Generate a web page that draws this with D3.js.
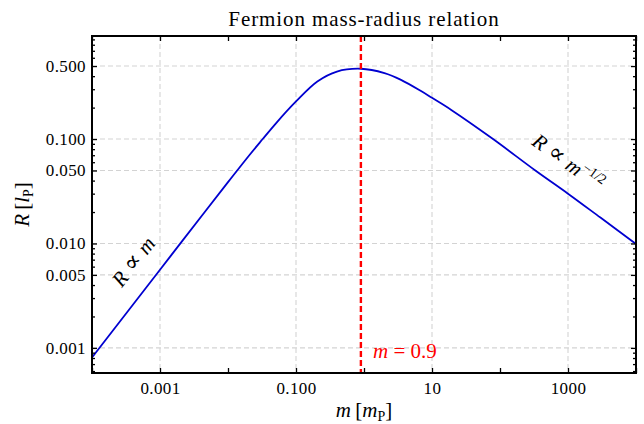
<!DOCTYPE html>
<html>
<head>
<meta charset="utf-8">
<script src="https://cdn.jsdelivr.net/npm/d3@7"></script>
<style>
  body { margin: 0; background: #fff; }
  svg text { font-family: "Liberation Serif", "DejaVu Serif", serif; }
</style>
</head>
<body>
<svg id="chart" width="644" height="424"></svg>
<script>
// values
const massValues = [1e-4, 1e-3, 2.06e-3, 0.01, 0.0213, 0.0324, 0.05, 0.1, 0.206, 0.4, 0.9, 2, 3.5, 6.9, 10, 19.2, 79, 331, 1000, 3000, 1e4];
const radiusValues = [8.1e-4, 5.6e-3, 0.0103, 0.0387, 0.072, 0.1, 0.14, 0.229, 0.356, 0.443, 0.471, 0.428, 0.369, 0.288, 0.248, 0.19, 0.1, 0.05, 0.03, 0.0177, 0.0099];

const xMajorTicks = [1e-4, 1e-3, 1e-2, 1e-1, 1, 10, 100, 1000, 1e4];
const xLabelTicks = [1e-3, 1e-1, 10, 1000];
const yLabelTicks = [0.001, 0.005, 0.01, 0.05, 0.1, 0.5];
const peakMass = 0.9;

let margin = {top: 36, right: 8, bottom: 51, left: 92},
    width = 644 - margin.left - margin.right,
    height = 424 - margin.top - margin.bottom;

const svg = d3.select("#chart");
const g = svg.append("g").attr("transform", `translate(${margin.left},${margin.top})`);

const x = d3.scaleLog().domain([1e-4, 1e4]).range([0, width]);
const y = d3.scaleLog().domain([5.75e-4, 0.97]).range([height, 0]);

// minor ticks on y: 2..9 times each decade, inside the domain
let yMinor = [];
for (let e = -4; e <= 0; e++) {
    for (let k = 2; k <= 9; k++) {
        let v = k * Math.pow(10, e);
        if (v >= y.domain()[0] && v <= y.domain()[1] && k != 5) yMinor.push(v);
    }
}
let yMajor = [];
for (let e = -4; e <= 0; e++) {
    [1, 5].forEach(function(k) {
        let v = k * Math.pow(10, e);
        if (v >= y.domain()[0] && v <= y.domain()[1]) yMajor.push(v);
    });
}

// grid
const gridStyle = sel => sel.attr("stroke", "#d3d3d3").attr("stroke-width", 1.1).attr("stroke-dasharray", "5,3");
g.append("g").selectAll("line").data(xLabelTicks).enter().append("line")
    .attr("x1", d => x(d)).attr("x2", d => x(d)).attr("y1", 0).attr("y2", height)
    .call(gridStyle);
g.append("g").selectAll("line").data(yLabelTicks).enter().append("line")
    .attr("x1", 0).attr("x2", width).attr("y1", d => y(d)).attr("y2", d => y(d))
    .call(gridStyle);

// curve
const pts = massValues.map((m, i) => [x(m), y(radiusValues[i])]);
g.append("path")
    .datum(pts)
    .attr("fill", "none")
    .attr("stroke", "#0000d0")
    .attr("stroke-width", 1.8)
    .attr("d", d3.line().curve(d3.curveCatmullRom.alpha(0.5)));

// peak marker
g.append("line")
    .attr("x1", x(peakMass)).attr("x2", x(peakMass)).attr("y1", 0).attr("y2", height)
    .attr("stroke", "#ff0000").attr("stroke-width", 2.4).attr("stroke-dasharray", "6,3");

// axes
const fmtX = d => xLabelTicks.includes(d) ? (d < 1 ? d3.format(".3f")(d) : d3.format("d")(d)) : "";
const xBottom = g.append("g").attr("transform", `translate(0,${height})`)
    .call(d3.axisBottom(x).tickValues(xMajorTicks).tickSize(-5).tickPadding(9).tickFormat(fmtX));
const xTop = g.append("g")
    .call(d3.axisTop(x).tickValues(xMajorTicks).tickSize(-5).tickFormat(""));

const yLeft = g.append("g")
    .call(d3.axisLeft(y).tickValues(yMajor).tickSize(-5).tickPadding(6)
        .tickFormat(d => yLabelTicks.includes(d) ? d3.format(".3f")(d) : ""));
const yLeftMinor = g.append("g")
    .call(d3.axisLeft(y).tickValues(yMinor).tickSize(-3).tickFormat(""));
const yRight = g.append("g").attr("transform", `translate(${width},0)`)
    .call(d3.axisRight(y).tickValues(yMajor).tickSize(-5).tickFormat(""));
const yRightMinor = g.append("g").attr("transform", `translate(${width},0)`)
    .call(d3.axisRight(y).tickValues(yMinor).tickSize(-3).tickFormat(""));

[xBottom, xTop, yLeft, yLeftMinor, yRight, yRightMinor].forEach(function(a) {
    a.select(".domain").remove();
    a.selectAll(".tick line").attr("stroke", "#000").attr("stroke-width", 1.3);
    a.selectAll(".tick text").attr("font-family", "Liberation Serif").attr("font-size", 17)
        .attr("letter-spacing", 0.4).attr("fill", "#000");
});

// frame
g.append("rect")
    .attr("x", 0).attr("y", 0).attr("width", width).attr("height", height)
    .attr("fill", "none").attr("stroke", "#000").attr("stroke-width", 2);

// title
svg.append("text")
    .attr("x", margin.left + width / 2).attr("y", 26)
    .attr("text-anchor", "middle").attr("font-size", 21).attr("letter-spacing", 0.9)
    .text("Fermion mass-radius relation");

// x label
let xl = svg.append("text")
    .attr("x", margin.left + width / 2).attr("y", 417)
    .attr("text-anchor", "middle").attr("font-size", 21);
xl.append("tspan").attr("font-style", "italic").text("m");
xl.append("tspan").text("\u2009[");
xl.append("tspan").attr("font-style", "italic").text("m");
xl.append("tspan").attr("font-size", 14).attr("dy", 4).text("P");
xl.append("tspan").attr("dy", -4).text("]");

// y label
let yl = svg.append("text")
    .attr("transform", `translate(29,${margin.top + height / 2}) rotate(-90)`)
    .attr("text-anchor", "middle").attr("font-size", 21);
yl.append("tspan").attr("font-style", "italic").text("R");
yl.append("tspan").text("\u2009[");
yl.append("tspan").attr("font-style", "italic").text("l");
yl.append("tspan").attr("font-size", 14).attr("dy", 4).text("P");
yl.append("tspan").attr("dy", -4).text("]");

// annotations
let a1 = svg.append("text")
    .attr("transform", "translate(139,266) rotate(-52)")
    .attr("text-anchor", "middle").attr("font-size", 21);
a1.append("tspan").attr("font-style", "italic").text("R");
a1.append("tspan").attr("font-size", 24).text(" ∝ ");
a1.append("tspan").attr("font-style", "italic").text("m");

let a2 = svg.append("text")
    .attr("transform", "translate(564,168) rotate(36)")
    .attr("text-anchor", "middle").attr("font-size", 21);
a2.append("tspan").attr("font-style", "italic").text("R");
a2.append("tspan").attr("font-size", 24).text(" ∝ ");
a2.append("tspan").attr("font-style", "italic").text("m");
a2.append("tspan").attr("font-size", 14).attr("dy", -9).text("−1/2");

let a3 = svg.append("text")
    .attr("x", 373).attr("y", 358)
    .attr("font-size", 21).attr("fill", "#ff0000");
a3.append("tspan").attr("font-style", "italic").text("m");
a3.append("tspan").text(" = 0.9");
</script>
</body>
</html>
